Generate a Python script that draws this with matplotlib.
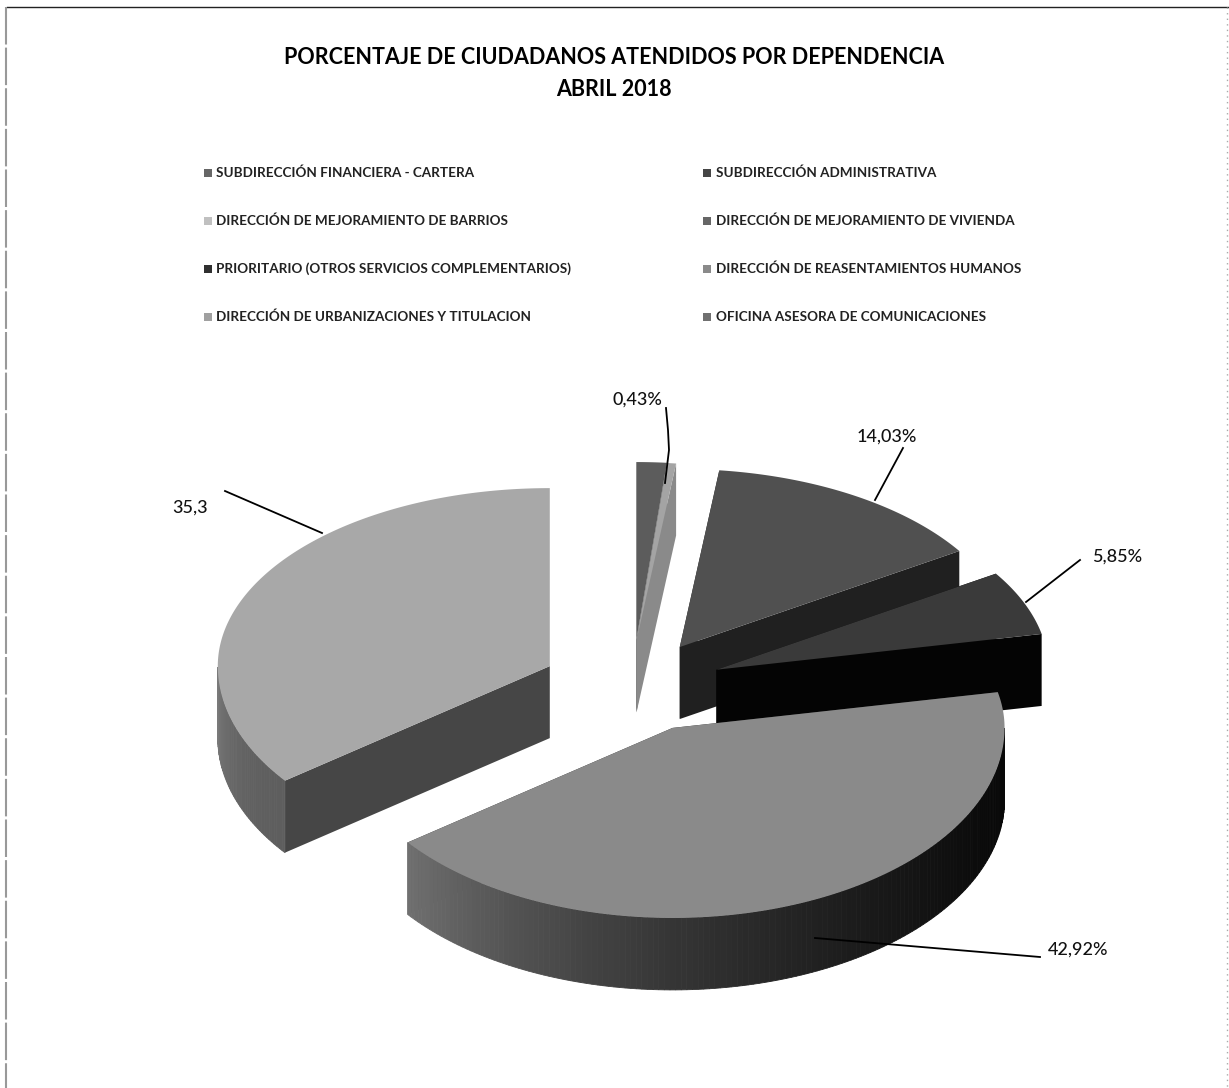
import numpy as np
import matplotlib
matplotlib.use('Agg')
import matplotlib.pyplot as plt

plt.rcParams['font.family'] = ['Lato', 'DejaVu Sans']

title_lines = ['PORCENTAJE DE CIUDADANOS ATENDIDOS POR DEPENDENCIA', 'ABRIL 2018']

legend_left = ['SUBDIRECCIÓN FINANCIERA - CARTERA',
               'DIRECCIÓN DE MEJORAMIENTO DE BARRIOS',
               'PRIORITARIO (OTROS SERVICIOS COMPLEMENTARIOS)',
               'DIRECCIÓN DE URBANIZACIONES Y TITULACION']
legend_right = ['SUBDIRECCIÓN ADMINISTRATIVA',
                'DIRECCIÓN DE MEJORAMIENTO DE VIVIENDA',
                'DIRECCIÓN DE REASENTAMIENTOS HUMANOS',
                'OFICINA ASESORA DE COMUNICACIONES']
legend_left_gray = ['#666666', '#c0c0c0', '#303030', '#a0a0a0']
legend_right_gray = ['#454545', '#666666', '#8a8a8a', '#707070']

# slices clockwise from twelve o'clock
slice_values = [1.47, 0.43, 14.03, 5.85, 42.92, 35.3]
slice_text = [None, '0,43%', '14,03%', '5,85%', '42,92%', '35,3']

top_gray = ['#5c5c5c', '#a4a4a4', '#505050', '#3a3a3a', '#8a8a8a', '#a8a8a8']
side_gray = ['#444444', '#8a8a8a', '#202020', '#040404', '#2a2a2a', '#464646']
# outer wall shade at the start and the end of each slice
rim_start = ['#444444', '#808080', '#3a3a3a', '#1a1a1a', '#080808', '#5e5e5e']
rim_end = ['#444444', '#808080', '#3a3a3a', '#1a1a1a', '#707070', '#7a7a7a']

# how far each slice is pulled out, horizontally and vertically
explode = [(-1.2, 1.0), (-0.5, 1.0), (0.69, 1.0), (0.78, 0.94), (0.72, 1.0), (1.0, 0.97)]
draw_order = [0, 1, 5, 2, 3, 4]

cx, cy = 642, 686
rx, ry_back, ry_front = 332, 178, 190
pull_x, pull_y = 103, 46
depth = 72


def rim(angle, ox=0.0, oy=0.0):
    # angle in degrees, clockwise from the top of the pie
    a = np.radians(angle)
    s, c = np.sin(a), np.cos(a)
    ry = np.where(c > 0, ry_back, ry_front)
    return ox + rx * s, oy - ry * c


def to_gray(hex_color):
    return int(hex_color[1:3], 16) / 255


fig = plt.figure(figsize=(12.29, 10.88), dpi=100)
ax = fig.add_axes([0, 0, 1, 1])
ax.set_xlim(0, 1229)
ax.set_ylim(1088, 0)
ax.axis('off')

# page frame
ax.plot([7, 1229], [7, 7], color='#222222', lw=1.0)
ax.plot([6, 6], [7, 1088], color='#999999', lw=1.5, ls=(0, (18, 1.5)))
ax.plot([1227, 1227], [7, 1088], color='#aaaaaa', lw=1.0, ls=(0, (1, 3)))

ax.text(614, 57, title_lines[0], ha='center', va='center', fontsize=15.5, fontweight='bold')
ax.text(614, 89, title_lines[1], ha='center', va='center', fontsize=15.5, fontweight='bold')

for i, name in enumerate(legend_left):
    y = 173 + i * 48
    ax.scatter([208], [y], marker='s', s=30, color=legend_left_gray[i], linewidths=0)
    ax.text(216, y, name, va='center', fontsize=9.7, fontweight='bold', color='#222222')
for i, name in enumerate(legend_right):
    y = 173 + i * 48
    ax.scatter([707], [y], marker='s', s=30, color=legend_right_gray[i], linewidths=0)
    ax.text(716, y, name, va='center', fontsize=9.7, fontweight='bold', color='#222222')

total = sum(slice_values)
edges = np.concatenate([[0], np.cumsum(slice_values)]) / total * 360
apex = []
for i in range(len(slice_values)):
    m = np.radians((edges[i] + edges[i + 1]) / 2)
    apex.append((cx + pull_x * explode[i][0] * np.sin(m), cy - pull_y * explode[i][1] * np.cos(m)))

for i in draw_order:
    ox, oy = apex[i]
    z = 2 + draw_order.index(i)
    angs = np.linspace(edges[i], edges[i + 1], 160)
    xs, ys = rim(angs, ox, oy)

    # radial walls
    for k in (0, -1):
        ax.fill([ox, xs[k], xs[k], ox], [oy, ys[k], ys[k] + depth, oy + depth],
                color=side_gray[i], lw=0, zorder=z)
    # outer wall, only the part that faces the front, shaded along its length
    idx = np.where((angs >= 90) & (angs <= 270))[0]
    g0, g1 = to_gray(rim_start[i]), to_gray(rim_end[i])
    for j, k in enumerate(idx[:-1]):
        t = j / max(len(idx) - 2, 1)
        g = g0 + (g1 - g0) * t ** 1.8
        ax.fill([xs[k], xs[k + 1], xs[k + 1], xs[k]],
                [ys[k], ys[k + 1], ys[k + 1] + depth, ys[k] + depth],
                color=str(g), lw=0.6, zorder=z)
    # top face
    ax.fill(np.r_[ox, xs], np.r_[oy, ys], color=top_gray[i], lw=0, zorder=z)

# value labels with their leaders
lab = dict(ha='center', va='center', fontsize=13, fontweight='medium', color='#111111')
leader = dict(color='black', lw=1.3, zorder=20)
ax.text(637, 400, slice_text[1], **lab)
ax.plot([666, 668, 669, 665], [408, 430, 450, 483], **leader)
ax.text(887, 437, slice_text[2], **lab)
ax.plot([903, 875], [448, 500], **leader)
ax.text(1117, 557, slice_text[3], **lab)
ax.plot([1080, 1026], [560, 602], **leader)
ax.text(1078, 950, slice_text[4], **lab)
ax.plot([1040, 815], [957, 938], **leader)
ax.text(190, 508, slice_text[5], **lab)
ax.plot([225, 322], [491, 533], **leader)

plt.savefig('out.png', dpi=100)
